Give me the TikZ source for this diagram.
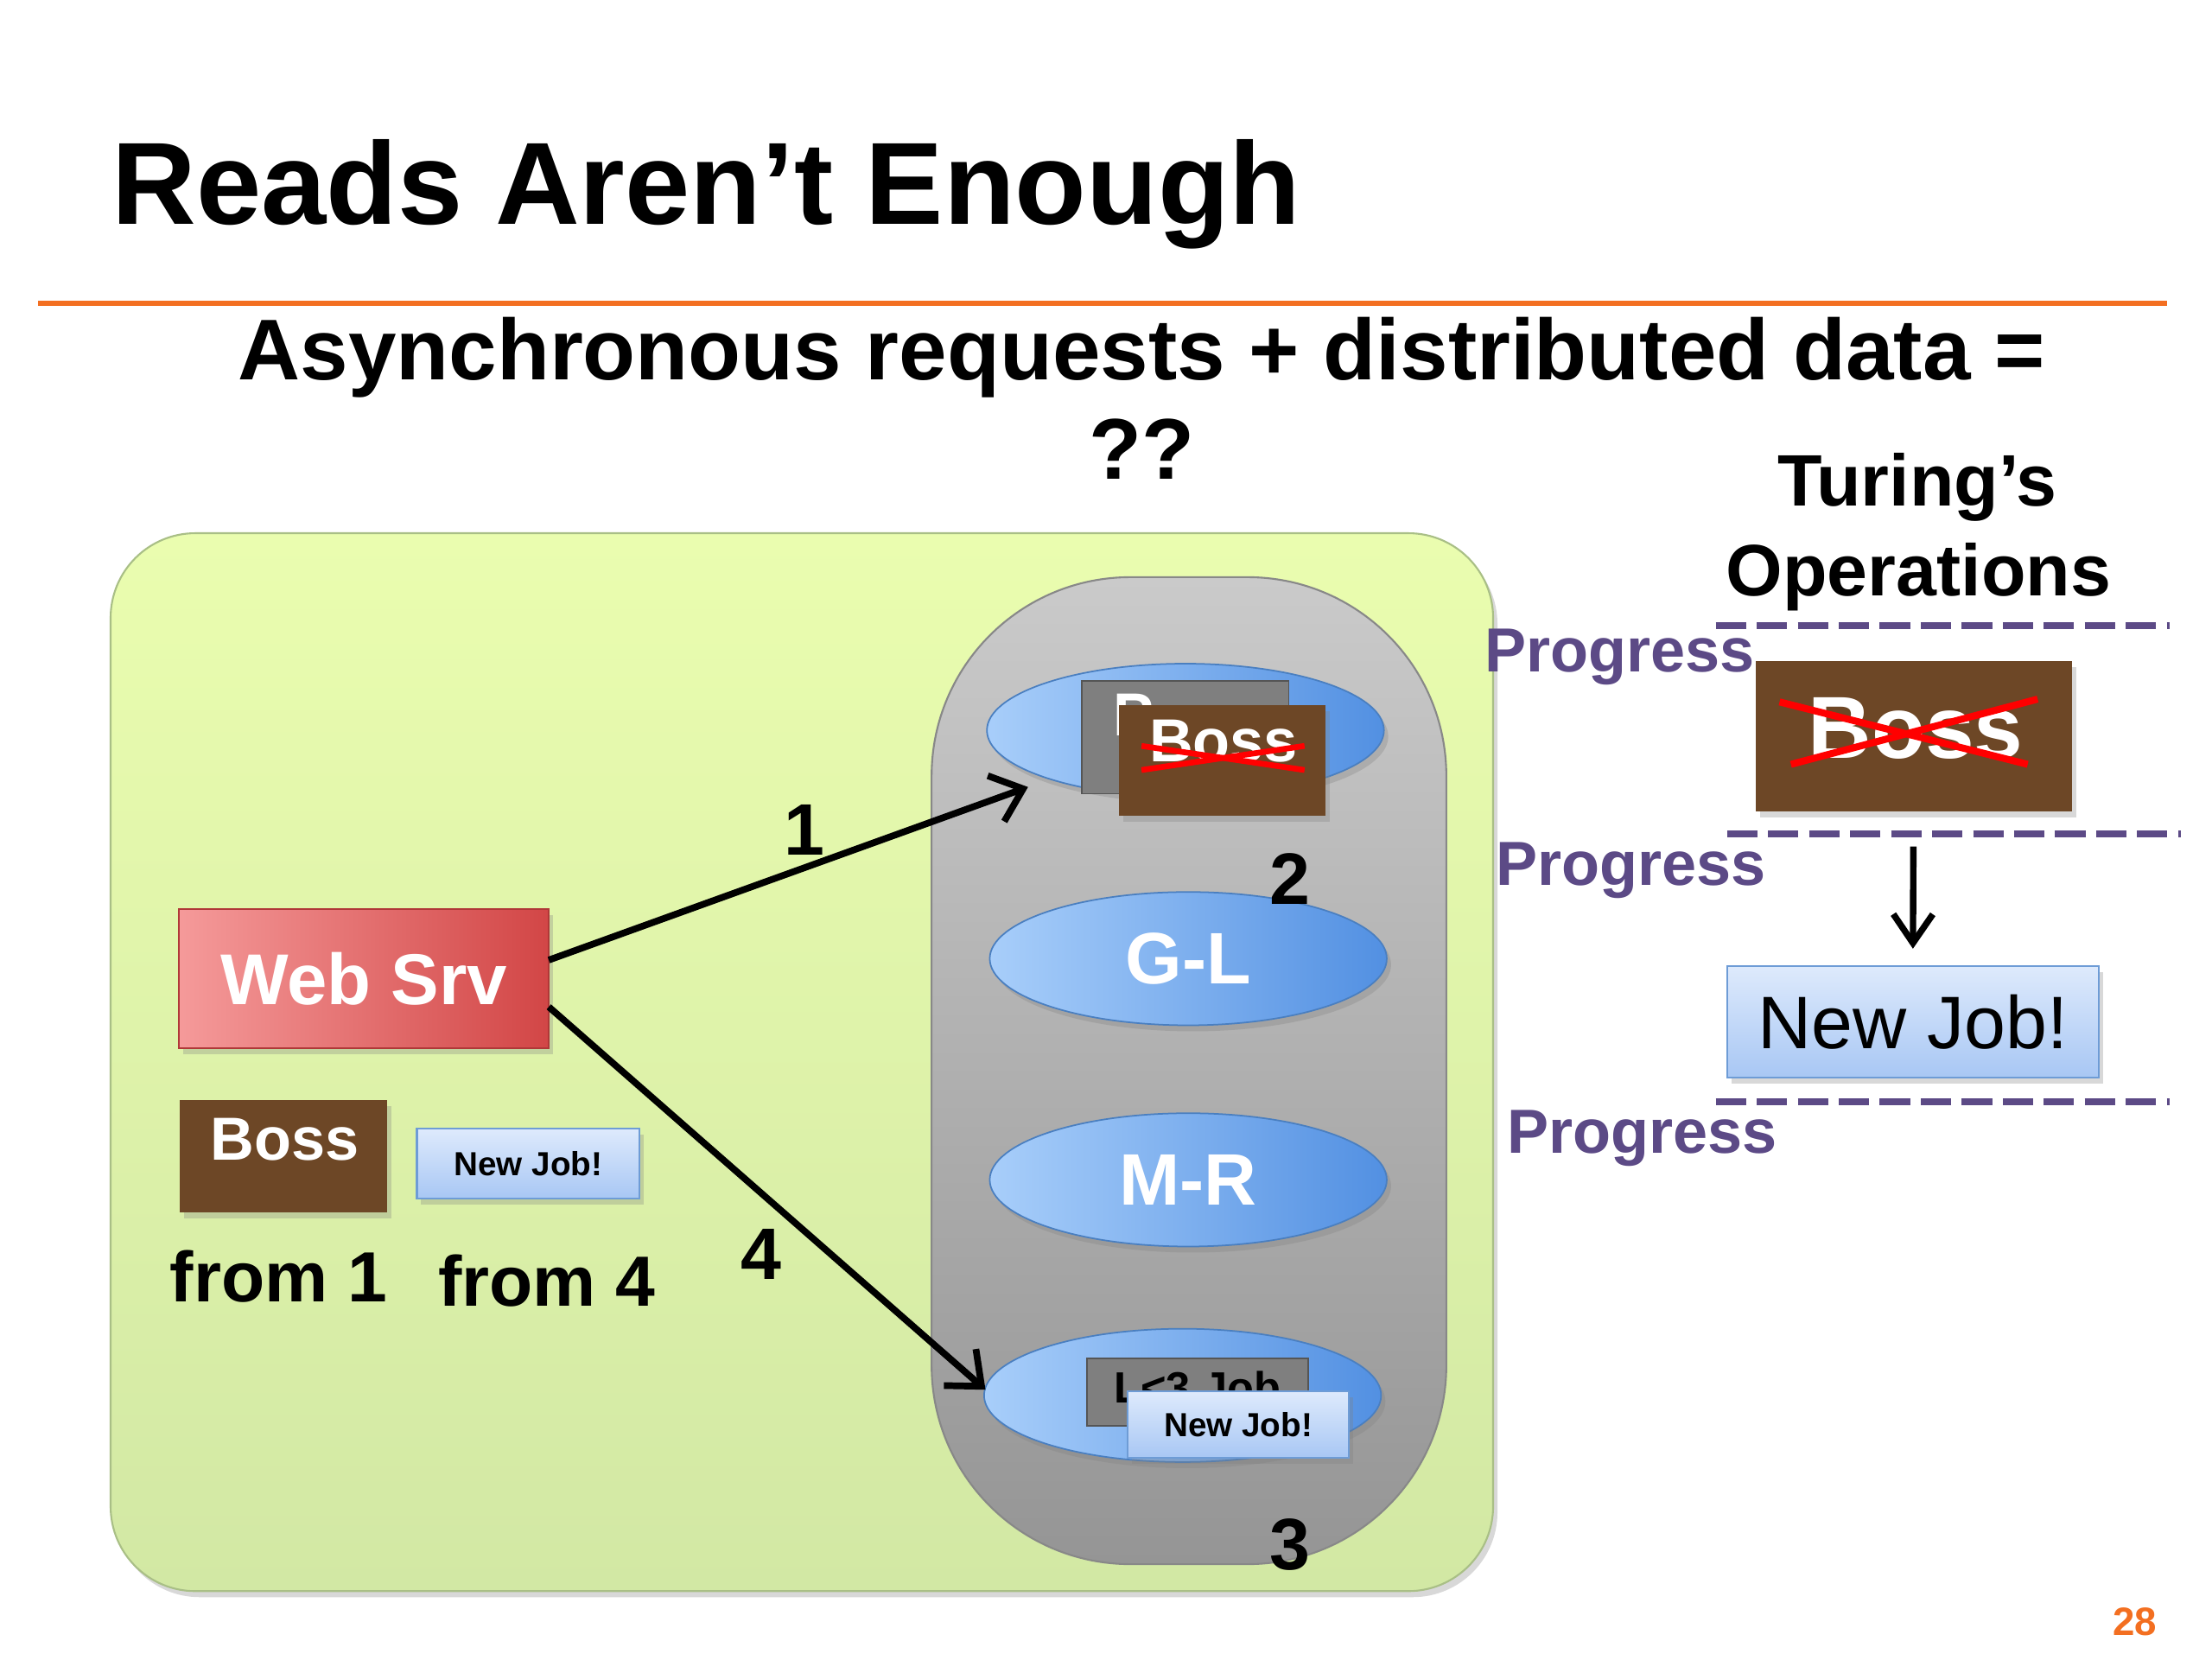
\documentclass[tikz,border=0pt]{standalone}
\usepackage{fontspec}
\setmainfont{Liberation Sans}
\usetikzlibrary{shapes.geometric,arrows.meta,calc,shadows}
\def\U{0.1641mm}
\newcommand{\fsz}[1]{\fontsize{#1}{#1}\selectfont}
\definecolor{cOrange}{HTML}{F36F21}
\definecolor{cPurple}{HTML}{5C4A86}
\definecolor{cBrown}{HTML}{6D4726}
\definecolor{cGray}{HTML}{7F7F7F}
\definecolor{cGrayD}{HTML}{555555}
\definecolor{cGreenT}{HTML}{EAFDAF}
\definecolor{cGreenB}{HTML}{D2E8A4}
\definecolor{cGreenL}{HTML}{A9BF86}
\definecolor{cPillT}{HTML}{CACACA}
\definecolor{cPillB}{HTML}{959595}
\definecolor{cEllL}{HTML}{A8CEFA}
\definecolor{cEllR}{HTML}{5290E2}
\definecolor{cEllD}{HTML}{4A7FC0}
\definecolor{cJobT}{HTML}{DEEAFC}
\definecolor{cJobB}{HTML}{A8C7F4}
\definecolor{cJobD}{HTML}{6E9CD6}
\definecolor{cWebL}{HTML}{F59A9A}
\definecolor{cWebR}{HTML}{D24646}
\definecolor{cWebD}{HTML}{B03838}
\begin{document}
\begin{tikzpicture}[x=0.1641mm,y=-0.1641mm,
  shad/.style={drop shadow={shadow xshift=0.5mm,shadow yshift=-0.7mm,opacity=0.3}},
  boxn/.style={rectangle,inner sep=0pt,outer sep=0pt},
  tx/.style={inner sep=0pt,outer sep=0pt,font=\bfseries},
  ell/.style={ellipse,inner sep=0pt,outer sep=0pt,minimum width=280*\U,minimum height=94*\U,
    left color=cEllL,right color=cEllR,draw=cEllD,line width=0.5pt,text=white,
    font=\bfseries\fsz{24},shad},
  jobbox/.style={boxn,top color=cJobT,bottom color=cJobB,draw=cJobD,line width=0.6pt,shad},
  brownbox/.style={boxn,fill=cBrown,shad},
  graybox/.style={boxn,fill=cGray,draw=cGrayD,line width=0.4pt},
  redx/.style={draw=red,line width=2.2pt},
  conn/.style={line width=2.2pt,-{Straight Barb[length=9.5pt,width=16pt]}},
  downarr/.style={line width=2.1pt,-{Straight Barb[length=9.5pt,width=13pt]}},
  progline/.style={draw=cPurple,line width=2.3pt,dash pattern=on 10pt off 3.5pt},
  prog/.style={tx,anchor=base west,text=cPurple,font=\bfseries\fsz{20.5}},
  num/.style={tx,anchor=base,font=\bfseries\fsz{24}}]
\useasboundingbox (0,0) rectangle (1560,1170);
\fill[white] (0,0) rectangle (1560,1170);

% title
\node[tx,anchor=base west,font=\bfseries\fsz{38.5}] (title) at (79,158) {Reads Aren’t Enough};
\draw[cOrange,line width=1.6pt] (27,214) -- (1528,214);
\node[tx,anchor=base,font=\bfseries\fsz{28.4}] (sub1) at (805,268) {Asynchronous requests + distributed data =};
\node[tx,anchor=base,font=\bfseries\fsz{28.4}] (sub2) at (805,338) {??};
\node[tx,anchor=base,font=\bfseries\fsz{24}] (tur1) at (1352,357) {Turing’s};
\node[tx,anchor=base,font=\bfseries\fsz{24}] (tur2) at (1353,420) {Operations};

% green region
\path[draw=cGreenL,line width=0.6pt,top color=cGreenT,bottom color=cGreenB,
  rounded corners=9.8mm,shad] (78,376) rectangle (1053,1122);
% gray pill
\path[draw=cGrayD!70,line width=0.6pt,top color=cPillT,bottom color=cPillB,
  rounded corners=23mm] (657,407) rectangle (1020,1103);

% ellipses
\node[ell] (e1) at (836,515) {};
\node[ell] (e2) at (838,676) {G-L};
\node[ell] (e3) at (838,832) {M-R};
\node[ell] (e4) at (834,984) {};

% top ellipse content
\node[graybox,minimum width=146*\U,minimum height=79.5*\U] (g1) at (836,520) {};
\node[tx,anchor=base west,text=white,font=\bfseries\fsz{20}] (g1t) at (785,519) {P};
\node[brownbox,minimum width=146*\U,minimum height=78*\U] (b1) at (862,536) {};
\node[tx,anchor=base west,text=white,font=\bfseries\fsz{20}] (b1t) at (810.5,537) {Boss};
\draw[redx,line width=1.9pt] (805,526) -- (920,543);
\draw[redx,line width=1.9pt] (805,543) -- (920,526);

% bottom ellipse content
\node[graybox,minimum width=156*\U,minimum height=47.5*\U] (g4) at (844.5,981.75) {};
\node[tx,anchor=base west,font=\bfseries\fsz{14.4}] (g4t) at (785.7,989) {L<3 Job};
\node[jobbox,minimum width=156*\U,minimum height=47*\U,font=\bfseries\fsz{11}] (n4) at (873.3,1004.5) {New Job!};

% web server and left items
\node[boxn,minimum width=261*\U,minimum height=98*\U,left color=cWebL,right color=cWebR,
  draw=cWebD,line width=0.5pt,text=white,font=\bfseries\fsz{23.7},shad] (ws) at (256.5,690) {Web Srv};
\node[brownbox,minimum width=146*\U,minimum height=79*\U] (bossL) at (200,815.5) {};
\node[tx,anchor=base,text=white,font=\bfseries\fsz{20}] (bossLt) at (201,818) {Boss};
\node[jobbox,minimum width=157*\U,minimum height=49*\U,font=\bfseries\fsz{11}] (njL) at (372.5,820.5) {New Job!};
\node[tx,anchor=base west,font=\bfseries\fsz{23.4}] (from1) at (120,918) {from 1};
\node[tx,anchor=base west,font=\bfseries\fsz{23.4}] (from4) at (309,921) {from 4};

% arrows
\coordinate (a1s) at ($(ws.east)+(0,-13)$);
\coordinate (a1e) at (725,555);
\coordinate (a4s) at ($(ws.east)+(0,20)$);
\coordinate (a4e) at (695,980);
\draw[conn] (a1s) -- (a1e);
\draw[conn] (a4s) -- (a4e);

% numbers
\node[num] (n1) at (567,603) {1};
\node[num] (n2) at (910,638) {2};
\node[num] (nfour) at (537,902) {4};
\node[num] (n3) at (910,1107) {3};

% right side
\node[prog] (p1) at (1047,474) {Progress};
\node[prog] (p2) at (1055,624) {Progress};
\node[prog] (p3) at (1063,813) {Progress};
\draw[progline] (1210,441) -- (1530,441);
\draw[progline] (1218,588) -- (1538,588);
\draw[progline] (1210,777) -- (1530,777);

\node[brownbox,minimum width=223*\U,minimum height=106*\U] (bossR) at (1349.5,519) {};
\node[tx,anchor=base,text=white,font=\bfseries\fsz{29}] (bossRt) at (1351,535) {Boss};
\draw[redx,line width=2.3pt] (1255,495) -- (1430,539);
\draw[redx,line width=2.3pt] (1263,539) -- (1437,493);
\node[jobbox,minimum width=262*\U,minimum height=79*\U,font=\fsz{24.5}] (njR) at (1349,720.5) {New Job!};
\draw[downarr,shorten <=4.1mm,shorten >=1.97mm] (bossR.south) -- (njR.north);

\node[tx,anchor=base,text=cOrange,font=\bfseries\fsz{13}] (pg) at (1505.5,1153) {28};
\end{tikzpicture}
\end{document}
